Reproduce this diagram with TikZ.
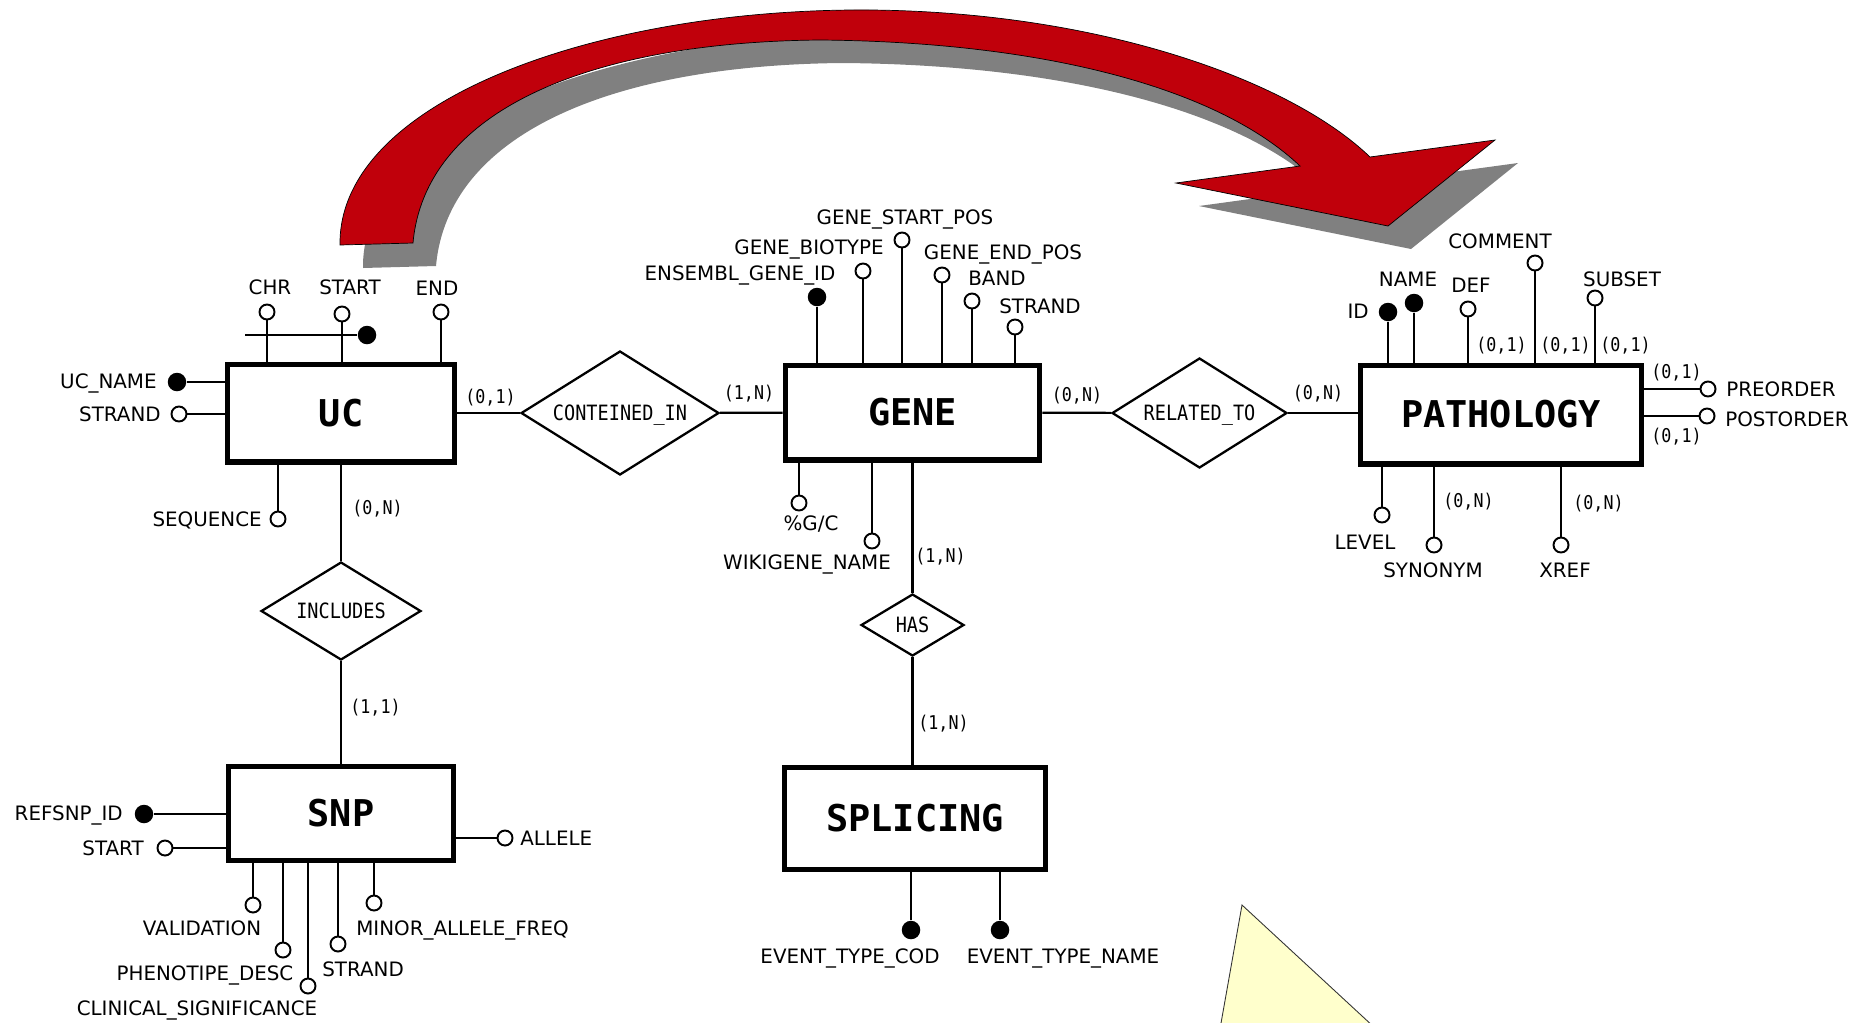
\documentclass[tikz,border=0pt]{standalone}
\usepackage{fontspec}
\setmainfont{DejaVu Sans}
\newfontfamily\ermono{DejaVu Sans Mono}
\newfontfamily\ermonocond{DejaVu Sans Mono}[FakeStretch=0.88]
\usetikzlibrary{shapes.geometric}

\definecolor{arrowred}{RGB}{192,0,11}
\definecolor{shadowgray}{RGB}{128,128,128}
\definecolor{noteyellow}{RGB}{255,255,204}

% outline of the big curved arrow (pixel units)
\newcommand{\bigarrowpath}{(340,245) .. controls (338,100) and (600,8) .. (870,10)
  .. controls (1100,12) and (1290,80) .. (1370,157) -- (1495,140) -- (1388,226)
  -- (1176,183) -- (1300,166) .. controls (1220,90) and (1050,42) .. (820,40)
  .. controls (590,42) and (425,110) .. (413,243) -- cycle}

\tikzset{
  entity/.style={draw, rectangle, line width=2.85pt, inner sep=0pt,
    font=\ermono\bfseries\fontsize{21}{21}\selectfont, text height=15.3pt, text depth=0pt},
  relation/.style={draw, diamond, aspect=2, line width=1.3pt, inner sep=0pt,
    font=\ermonocond\fontsize{12}{12}\selectfont, text height=8.7pt, text depth=0pt},
  attr/.style={circle, draw, fill=white, line width=1.1pt, inner sep=0pt, minimum size=0.3cm},
  keyattr/.style={circle, fill=black, inner sep=0pt, minimum size=0.37cm},
  txt/.style={inner sep=0pt, font=\fontsize{11.3}{11.3}\selectfont, text height=8.2pt, text depth=0pt},
  card/.style={inner sep=0pt, font=\ermonocond\fontsize{10.8}{10.8}\selectfont, text height=7.8pt, text depth=0pt},
  link/.style={line width=1.25pt}
}

\begin{document}
\begin{tikzpicture}[x=0.02cm, y=-0.02cm]
\useasboundingbox (0,0) rectangle (1862,1022);

% arrow and its shadow
\fill[shadowgray, shift={(23,23)}] \bigarrowpath;
\filldraw[fill=arrowred, draw=black, line width=0.4pt] \bigarrowpath;

% yellow corner
\begin{scope}
  \clip (0,0) rectangle (1862,1022);
  \filldraw[fill=noteyellow, draw=black!80, line width=0.5pt] (1242,905) -- (1218,1040) -- (1388,1040) -- cycle;
\end{scope}

% entities
\node[entity, minimum width=4.54cm, minimum height=1.96cm] (uc) at (341,413) {UC};
\node[entity, minimum width=5.1cm, minimum height=1.9cm] (gene) at (912.5,412.5) {GENE};
\node[entity, minimum width=5.64cm, minimum height=1.98cm] (pathology) at (1501,414.5) {PATHOLOGY};
\node[entity, minimum width=4.5cm, minimum height=1.88cm] (snp) at (341,813) {SNP};
\node[entity, minimum width=5.24cm, minimum height=2.04cm] (splicing) at (915,818) {SPLICING};

% relationships
\node[relation, minimum width=3.96cm, minimum height=2.48cm] (conteined) at (620,413) {CONTEINED\_IN};
\node[relation, minimum width=3.5cm, minimum height=2.2cm] (related) at (1199.5,413) {RELATED\_TO};
\node[relation, minimum width=3.2cm, minimum height=1.96cm] (includes) at (341,611) {INCLUDES};
\node[relation, minimum width=2.06cm, minimum height=1.24cm] (has) at (912.5,625) {HAS};

\draw[link] (uc) -- (conteined);
\draw[link] (conteined) -- (gene);
\draw[link] (gene) -- (related);
\draw[link] (related) -- (related -| pathology.west);
\draw[link] (uc) -- (includes);
\draw[link] (includes) -- (snp);
\draw[link] (gene) -- (has);
\draw[link] (has) -- (has |- splicing.north);

\node[card, anchor=west] (cucin) at (465,397) {(0,1)};
\node[card] (cgenein) at (749,393) {(1,N)};
\node[card] (cgenerel) at (1077,395) {(0,N)};
\node[card] (cpathrel) at (1318,393) {(0,N)};
\node[card, anchor=west] (cucinc) at (352,508) {(0,N)};
\node[card, anchor=west] (csnpinc) at (350,707) {(1,1)};
\node[card, anchor=west] (cgenehas) at (915,556) {(1,N)};
\node[card, anchor=west] (csplhas) at (918,723) {(1,N)};

% UC attributes
\node[attr] (chr) at (267,312) {};
\node[attr] (ucstart) at (342,314) {};
\node[attr] (ucend) at (441,312) {};
\node[keyattr] (ucid) at (367,335) {};
\coordinate (ucidbar) at (245,335);
\node[keyattr] (ucname) at (177,382) {};
\node[attr] (ucstrand) at (179,414) {};
\node[attr] (sequence) at (278,519) {};
\draw[link] (chr) -- (chr |- uc.north);
\draw[link] (ucstart) -- (ucstart |- uc.north);
\draw[link] (ucend) -- (ucend |- uc.north);
\draw[link] (ucidbar) -- (ucid);
\draw[link] (ucname) -- (ucname -| uc.west);
\draw[link] (ucstrand) -- (ucstrand -| uc.west);
\draw[link] (sequence) -- (sequence |- uc.south);
\node[txt] (chrlbl) at (270,287) {CHR};
\node[txt] (ucstartlbl) at (350,287) {START};
\node[txt] (ucendlbl) at (437,288) {END};
\node[txt, anchor=east] (ucnamelbl) at (157,381) {UC\_NAME};
\node[txt, anchor=east] (ucstrandlbl) at (161,414) {STRAND};
\node[txt, anchor=east] (sequencelbl) at (262,519) {SEQUENCE};

% GENE attributes
\node[keyattr] (ensembl) at (817,297) {};
\node[attr] (biotype) at (863,271) {};
\node[attr] (startpos) at (902,240) {};
\node[attr] (endpos) at (942,275) {};
\node[attr] (band) at (972,301) {};
\node[attr] (genestrand) at (1015,327) {};
\node[attr] (gc) at (799,503) {};
\node[attr] (wikigene) at (872,541) {};
\foreach \a in {ensembl,biotype,startpos,endpos,band,genestrand}
  \draw[link] (\a) -- (\a |- gene.north);
\draw[link] (gc) -- (gc |- gene.south);
\draw[link] (wikigene) -- (wikigene |- gene.south);
\node[txt] (ensembllbl) at (740,273) {ENSEMBL\_GENE\_ID};
\node[txt] (biotypelbl) at (809,247) {GENE\_BIOTYPE};
\node[txt] (startposlbl) at (905,217) {GENE\_START\_POS};
\node[txt] (endposlbl) at (1003,252) {GENE\_END\_POS};
\node[txt] (bandlbl) at (997,278) {BAND};
\node[txt] (genestrandlbl) at (1040,306) {STRAND};
\node[txt] (gclbl) at (811,523) {\%G/C};
\node[txt] (wikigenelbl) at (807,562) {WIKIGENE\_NAME};

% SPLICING attributes
\node[keyattr] (evcod) at (911,930) {};
\node[keyattr] (evname) at (1000,930) {};
\draw[link] (evcod) -- (evcod |- splicing.south);
\draw[link] (evname) -- (evname |- splicing.south);
\node[txt] (evcodlbl) at (850,956) {EVENT\_TYPE\_COD};
\node[txt] (evnamelbl) at (1063,956) {EVENT\_TYPE\_NAME};

% PATHOLOGY attributes
\node[keyattr] (pid) at (1388,312) {};
\node[keyattr] (pname) at (1414,303) {};
\node[attr] (pdef) at (1468,309) {};
\node[attr] (pcomment) at (1535,263) {};
\node[attr] (psubset) at (1595,298) {};
\node[attr] (preorder) at (1708,389) {};
\node[attr] (postorder) at (1707,416) {};
\node[attr] (plevel) at (1382,515) {};
\node[attr] (psynonym) at (1434,545) {};
\node[attr] (pxref) at (1561,545) {};
\foreach \a in {pid,pname,pdef,pcomment,psubset}
  \draw[link] (\a) -- (\a |- pathology.north);
\foreach \a in {plevel,psynonym,pxref}
  \draw[link] (\a) -- (\a |- pathology.south);
\draw[link] (preorder) -- (preorder -| pathology.east);
\draw[link] (postorder) -- (postorder -| pathology.east);
\node[txt, anchor=east] (pidlbl) at (1369,311) {ID};
\node[txt] (pnamelbl) at (1408,279) {NAME};
\node[txt] (pdeflbl) at (1471,285) {DEF};
\node[txt] (pcommentlbl) at (1500,241) {COMMENT};
\node[txt] (psubsetlbl) at (1622,279) {SUBSET};
\node[txt, anchor=west] (preorderlbl) at (1726,389) {PREORDER};
\node[txt, anchor=west] (postorderlbl) at (1725,419) {POSTORDER};
\node[txt] (plevellbl) at (1365,542) {LEVEL};
\node[txt] (psynonymlbl) at (1433,570) {SYNONYM};
\node[txt] (pxreflbl) at (1565,570) {XREF};
\node[card, anchor=west] (cdef) at (1476,345) {(0,1)};
\node[card, anchor=west] (ccomment) at (1540,345) {(0,1)};
\node[card, anchor=west] (csubset) at (1600,345) {(0,1)};
\node[card, anchor=west] (cpre) at (1651,372) {(0,1)};
\node[card, anchor=west] (cpost) at (1651,436) {(0,1)};
\node[card, anchor=west] (csyn) at (1443,501) {(0,N)};
\node[card, anchor=west] (cxref) at (1573,503) {(0,N)};

% SNP attributes
\node[keyattr] (refsnp) at (144,814) {};
\node[attr] (snpstart) at (165,848) {};
\node[attr] (allele) at (505,838) {};
\node[attr] (validation) at (253,905) {};
\node[attr] (phenotipe) at (283,950) {};
\node[attr] (clinical) at (308,986) {};
\node[attr] (snpstrand) at (338,944) {};
\node[attr] (minorfreq) at (374,903) {};
\draw[link] (refsnp) -- (refsnp -| snp.west);
\draw[link] (snpstart) -- (snpstart -| snp.west);
\draw[link] (allele) -- (allele -| snp.east);
\foreach \a in {validation,phenotipe,clinical,snpstrand,minorfreq}
  \draw[link] (\a) -- (\a |- snp.south);
\node[txt, anchor=east] (refsnplbl) at (123,813) {REFSNP\_ID};
\node[txt, anchor=east] (snpstartlbl) at (144,848) {START};
\node[txt, anchor=west] (allelelbl) at (520,838) {ALLELE};
\node[txt] (validationlbl) at (202,928) {VALIDATION};
\node[txt] (phenotipelbl) at (205,973) {PHENOTIPE\_DESC};
\node[txt] (clinicallbl) at (197,1008) {CLINICAL\_SIGNIFICANCE};
\node[txt, anchor=west] (snpstrandlbl) at (322,969) {STRAND};
\node[txt, anchor=west] (minorfreqlbl) at (356,928) {MINOR\_ALLELE\_FREQ};

\end{tikzpicture}
\end{document}
